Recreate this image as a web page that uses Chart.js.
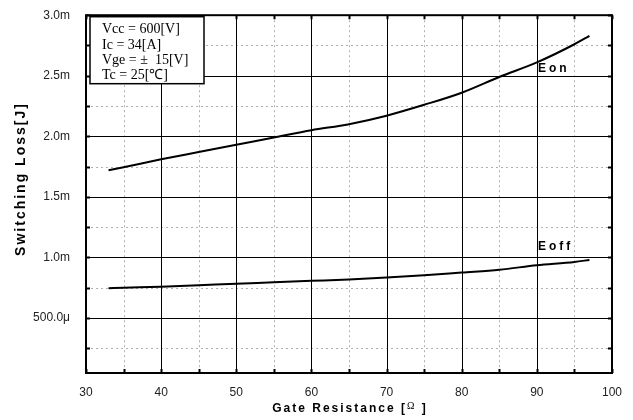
<!DOCTYPE html>
<html>
<head>
<meta charset="utf-8">
<script src="https://cdn.jsdelivr.net/npm/chart.js@4/dist/chart.umd.min.js"></script>
<style>
  html, body { margin: 0; padding: 0; background: #fff; }
  #wrap { width: 633px; height: 420px; position: relative; }
</style>
</head>
<body>
<div id="wrap"><canvas id="c" width="633" height="420"></canvas></div>
<script>
// Gate resistance [Ω] sample points
const rgEon  = [33, 35, 40, 45, 50, 55, 60, 65, 70, 75, 80, 85, 90, 95, 97];
const eonJ   = [1.72e-3, 1.745e-3, 1.81e-3, 1.87e-3, 1.93e-3, 1.99e-3, 2.05e-3, 2.10e-3, 2.17e-3, 2.26e-3, 2.36e-3, 2.49e-3, 2.61e-3, 2.76e-3, 2.83e-3];
const rgEoff = [33, 35, 40, 45, 50, 55, 60, 65, 70, 75, 80, 85, 90, 95, 97];
const eoffJ  = [0.745e-3, 0.749e-3, 0.758e-3, 0.770e-3, 0.783e-3, 0.794e-3, 0.806e-3, 0.818e-3, 0.833e-3, 0.852e-3, 0.875e-3, 0.898e-3, 0.935e-3, 0.962e-3, 0.979e-3];

// Axis ranges and tick labels
const xMin = 30, xMax = 100;
const yMin = 0.045e-3, yMax = 3.0e-3;
const xTickLabels = ['30', '40', '50', '60', '70', '80', '90', '100'];
const yTickLabels = ['', '500.0\u03bc', '1.0m', '1.5m', '2.0m', '2.5m', '3.0m'];

// Test-condition text block
const conditions = ['Vcc = 600[V]', 'Ic = 34[A]', 'Vge = \u00b1  15[V]', 'Tc = 25[\u2103]'];

const toPoints = (xs, ys) => xs.map((x, i) => ({ x: x, y: ys[i] }));

const sans = '"Liberation Sans", Arial, sans-serif';
const serif = '"Liberation Serif", "Times New Roman", serif';

const isMajorX = (v) => Math.round(v) % 10 === 0;
const yIndex = (v) => Math.round(v / 0.00025);

const decorPlugin = {
  id: 'decor',
  beforeDatasetsDraw(chart) {
    const { ctx, chartArea: a, scales: { x, y } } = chart;
    ctx.save();
    // minor dotted grid
    ctx.strokeStyle = '#b0b0b0';
    ctx.lineWidth = 1;
    ctx.setLineDash([2, 3]);
    x.ticks.forEach(t => {
      if (!isMajorX(t.value)) {
        const px = Math.round(x.getPixelForValue(t.value)) + 0.5;
        ctx.beginPath(); ctx.moveTo(px, a.top); ctx.lineTo(px, a.bottom); ctx.stroke();
      }
    });
    y.ticks.forEach(t => {
      if (yIndex(t.value) % 2 !== 0) {
        const py = Math.round(y.getPixelForValue(t.value)) + 0.5;
        ctx.beginPath(); ctx.moveTo(a.left, py); ctx.lineTo(a.right, py); ctx.stroke();
      }
    });
    // major solid grid
    ctx.setLineDash([]);
    ctx.strokeStyle = '#000';
    x.ticks.forEach(t => {
      if (isMajorX(t.value)) {
        const px = Math.round(x.getPixelForValue(t.value)) + 0.5;
        ctx.beginPath(); ctx.moveTo(px, a.top); ctx.lineTo(px, a.bottom); ctx.stroke();
      }
    });
    y.ticks.forEach(t => {
      if (yIndex(t.value) % 2 === 0 && yIndex(t.value) > 0) {
        const py = Math.round(y.getPixelForValue(t.value)) + 0.5;
        ctx.beginPath(); ctx.moveTo(a.left, py); ctx.lineTo(a.right, py); ctx.stroke();
      }
    });
    ctx.restore();
  },
  afterDraw(chart) {
    const { ctx, chartArea: a, scales: { x, y } } = chart;
    ctx.save();
    // plot frame
    ctx.strokeStyle = '#000';
    ctx.lineWidth = 2;
    ctx.strokeRect(a.left, a.top, a.right - a.left, a.bottom - a.top);
    // inward tick marks on all four sides
    const tl = 4;
    x.ticks.forEach(t => {
      const px = Math.round(x.getPixelForValue(t.value)) + 0.5;
      ctx.beginPath();
      ctx.moveTo(px, a.bottom); ctx.lineTo(px, a.bottom - tl);
      ctx.moveTo(px, a.top); ctx.lineTo(px, a.top + tl);
      ctx.stroke();
    });
    y.ticks.forEach(t => {
      if (yIndex(t.value) === 0) return;
      const py = Math.round(y.getPixelForValue(t.value)) + 0.5;
      ctx.beginPath();
      ctx.moveTo(a.left, py); ctx.lineTo(a.left + tl, py);
      ctx.moveTo(a.right, py); ctx.lineTo(a.right - tl, py);
      ctx.stroke();
    });

    // conditions box
    const bx = a.left + 4, by = a.top + 1.5, bw = 114, bh = 67;
    ctx.fillStyle = '#fff';
    ctx.fillRect(bx, by, bw, bh);
    ctx.lineWidth = 1.5;
    ctx.strokeRect(bx, by, bw, bh);
    ctx.fillStyle = '#000';
    ctx.font = '14px ' + serif;
    ctx.textBaseline = 'middle';
    ctx.textAlign = 'left';
    conditions.forEach((s, i) => ctx.fillText(s, bx + 12, by + 13 + i * 15.3));

    // curve labels
    ctx.font = 'bold 12px ' + sans;
    ctx.letterSpacing = '3px';
    ctx.fillText('Eon', 538, y.getPixelForValue(2.56e-3));
    ctx.fillText('Eoff', 538, y.getPixelForValue(1.09e-3));

    // x axis title, with a small raised Ω
    const cx = (a.left + a.right) / 2 + 1, ty = 409;
    ctx.letterSpacing = '2px';
    ctx.font = 'bold 12px ' + sans;
    const p1 = 'Gate Resistance [', p3 = ' ]';
    const w1 = ctx.measureText(p1).width, w3 = ctx.measureText(p3).width;
    ctx.font = '10px ' + serif;
    ctx.letterSpacing = '0px';
    const w2 = ctx.measureText('\u03a9').width + 2;
    let sx = cx - (w1 + w2 + w3) / 2;
    ctx.font = 'bold 12px ' + sans;
    ctx.letterSpacing = '2px';
    ctx.fillText(p1, sx, ty);
    ctx.font = '10px ' + serif;
    ctx.letterSpacing = '0px';
    ctx.fillText('\u03a9', sx + w1, ty - 3);
    ctx.font = 'bold 12px ' + sans;
    ctx.letterSpacing = '2px';
    ctx.fillText(p3, sx + w1 + w2, ty);

    // y axis title
    ctx.textAlign = 'center';
    ctx.translate(21, 179);
    ctx.rotate(-Math.PI / 2);
    ctx.font = 'bold 14px ' + sans;
    ctx.letterSpacing = '2px';
    ctx.fillText('Switching Loss[J]', 0, 0);
    ctx.restore();
  }
};

new Chart(document.getElementById('c'), {
  type: 'line',
  data: {
    datasets: [
      { label: 'Eon', data: toPoints(rgEon, eonJ), borderColor: '#000', borderWidth: 2, pointRadius: 0, cubicInterpolationMode: 'monotone', fill: false },
      { label: 'Eoff', data: toPoints(rgEoff, eoffJ), borderColor: '#000', borderWidth: 2, pointRadius: 0, cubicInterpolationMode: 'monotone', fill: false }
    ]
  },
  options: {
    responsive: false,
    animation: false,
    layout: { padding: { left: 0, right: 21, top: 13, bottom: 0 } },
    plugins: { legend: { display: false }, tooltip: { enabled: false } },
    scales: {
      x: {
        type: 'linear', min: xMin, max: xMax,
        grid: { display: false },
        border: { display: false },
        ticks: {
          stepSize: 5, autoSkip: false, maxRotation: 0, padding: 4,
          color: '#222', font: { family: sans, size: 12 },
          callback: (v) => (isMajorX(v) ? xTickLabels[(Math.round(v) - xMin) / 10] : '')
        },
        afterFit: (s) => { s.height = 47; }
      },
      y: {
        type: 'linear', min: yMin, max: yMax,
        grid: { display: false },
        border: { display: false },
        ticks: {
          stepSize: 0.00025, autoSkip: false, padding: 8,
          color: '#222', font: { family: sans, size: 12 },
          callback: (v) => {
            const k = yIndex(v);
            return k % 2 === 0 ? yTickLabels[k / 2] : '';
          }
        },
        afterFit: (s) => { s.width = 86; }
      }
    }
  },
  plugins: [decorPlugin]
});
</script>
</body>
</html>
